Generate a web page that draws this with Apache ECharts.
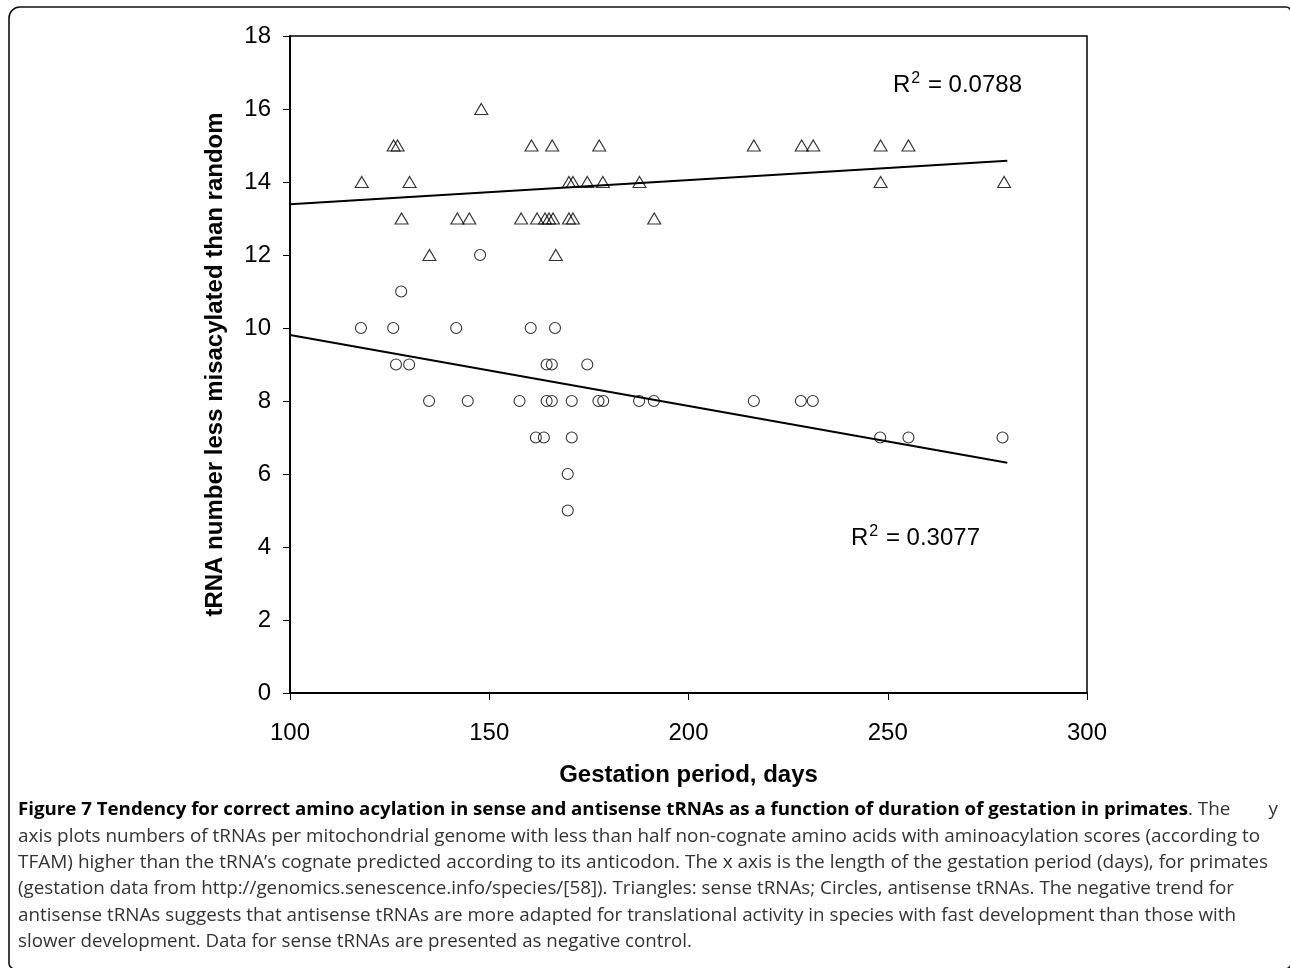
<!DOCTYPE html>
<html>
<head>
<meta charset="utf-8">
<script src="https://cdn.jsdelivr.net/npm/echarts@6/dist/echarts.min.js"></script>
<style>
html,body{margin:0;padding:0;background:#fff;}
#chart{width:1290px;height:968px;}
</style>
</head>
<body>
<div id="chart"></div>
<script>
// Sense tRNAs (triangles)
var senseGestation = [118,126,127,128,130,135,142,145,148,158,160.6,162,164,165,166,165.8,166.7,170,171,170,171,174.6,177.6,178.5,187.7,191.4,216.4,228.4,231.3,248.2,248.2,255.2,279.2];
var senseCount     = [14,15,15,13,14,12,13,13,16,13,15,13,13,13,13,15,12,13,13,14,14,14,15,14,14,13,15,15,15,15,14,15,14];
// Antisense tRNAs (circles)
var antiGestation = [117.8,125.9,127.9,141.7,160.4,166.5,147.7,126.6,129.9,164.4,165.7,174.6,134.9,144.6,157.6,164.4,165.7,170.7,177.4,178.6,187.6,191.3,216.4,228.2,231.2,161.7,163.7,170.7,248.1,255.2,278.8,169.7,169.7];
var antiCount     = [10,10,11,10,10,10,12,9,9,9,9,9,8,8,8,8,8,8,8,8,8,8,8,8,8,7,7,7,7,7,7,6,5];
// Trend lines
var trendX = [100, 280];
var trendSenseY = [13.39, 14.58];
var trendAntiY = [9.81, 6.31];
var r2Sense = '0.0788';
var r2Anti = '0.3077';
var xTicks = {min:100, max:300, interval:50};
var yTicks = {min:0, max:18, interval:2};
var xName = 'Gestation period, days';
var yName = 'tRNA number less misacylated than random';
var captionBold = 'Figure 7 Tendency for correct amino acylation in sense and antisense tRNAs as a function of duration of gestation in primates';
var captionFirstA = '. The';
var captionFirstB = 'y';
var captionLines = [
  'axis plots numbers of tRNAs per mitochondrial genome with less than half non-cognate amino acids with aminoacylation scores (according to',
  'TFAM) higher than the tRNA\u2019s cognate predicted according to its anticodon. The x axis is the length of the gestation period (days), for primates',
  '(gestation data from http://genomics.senescence.info/species/[58]). Triangles: sense tRNAs; Circles, antisense tRNAs. The negative trend for',
  'antisense tRNAs suggests that antisense tRNAs are more adapted for translational activity in species with fast development than those with',
  'slower development. Data for sense tRNAs are presented as negative control.'
];

function zip(a,b){ return a.map(function(v,i){ return [v,b[i]]; }); }

var capFont = 'Open Sans';
var capSize = 18.5;
var cv = document.createElement('canvas').getContext('2d');
function measure(txt, weight){ cv.font = weight + ' ' + capSize + 'px "' + capFont + '"'; return cv.measureText(txt).width; }

var capLeft = 18;
var capTop0 = 810, capStep = 26.4;
var boldEnd = 1188;
var firstEnd = 1278;
var lineEnds = [1260, 1268, 1234, 1236, 692];
var richR = {fontFamily:'Liberation Sans, Arial',fontSize:24,fill:'#000'};
var richS = {fontFamily:'Liberation Sans, Arial',fontSize:16,fill:'#000',verticalAlign:'bottom',padding:[0,1,12,1]};
var graphics = [
  {type:'rect', shape:{x:9,y:7,width:1282,height:962,r:[11,5,6,6]}, style:{fill:'none',stroke:'#111',lineWidth:1.6}, silent:true},
  {type:'text', x:893, y:85, style:{rich:{r:richR,s:richS}, text:'{r|R}{s|2}{r| = ' + r2Sense + '}', verticalAlign:'middle'}},
  {type:'text', x:851, y:538, style:{rich:{r:richR,s:richS}, text:'{r|R}{s|2}{r| = ' + r2Anti + '}', verticalAlign:'middle'}}
];
var scales = [];
for (var i=0;i<captionLines.length;i++){
  var w = measure(captionLines[i], 'normal');
  var sc = (lineEnds[i]-capLeft)/w;
  scales.push(sc);
  graphics.push({type:'text', x:capLeft, y:capTop0 + (i+1)*capStep, scaleX:sc, style:{text:captionLines[i], font:capSize+'px "'+capFont+'"', fill:'#333', verticalAlign:'middle'}});
}
var avgScale = scales.reduce(function(a,b){return a+b;},0)/scales.length;
// caption line 1: bold part + normal part (justified)
var wb = measure(captionBold, 'bold');
graphics.push({type:'text', x:capLeft, y:capTop0, scaleX:(boldEnd-capLeft)/wb, style:{text:captionBold, font:'bold '+capSize+'px "'+capFont+'"', fill:'#000', verticalAlign:'middle'}});
graphics.push({type:'text', x:boldEnd, y:capTop0, scaleX:avgScale, style:{text:captionFirstA, font:capSize+'px "'+capFont+'"', fill:'#333', verticalAlign:'middle'}});
var wy = measure(captionFirstB, 'normal');
graphics.push({type:'text', x:firstEnd - wy*avgScale, y:capTop0, scaleX:avgScale, style:{text:captionFirstB, font:capSize+'px "'+capFont+'"', fill:'#333', verticalAlign:'middle'}});

var chart = echarts.init(document.getElementById('chart'), null, {renderer:'canvas'});
var axisFont = {fontFamily:'Liberation Sans, Arial', fontSize:24, color:'#000'};
chart.setOption({
  animation:false,
  backgroundColor:'#fff',
  grid:{left:290, right:203, top:36, bottom:275, show:true, borderColor:'#000', borderWidth:1.5, backgroundColor:'transparent'},
  xAxis:{
    type:'value', min:xTicks.min, max:xTicks.max, interval:xTicks.interval,
    name:xName, nameLocation:'middle', nameGap:70,
    nameTextStyle:{fontFamily:'Liberation Sans, Arial', fontSize:24, fontWeight:'bold', color:'#000'},
    axisLine:{show:true, onZero:false, lineStyle:{color:'#000', width:2}},
    axisTick:{show:true, inside:false, length:7, lineStyle:{color:'#000', width:1}},
    axisLabel:Object.assign({margin:28}, axisFont),
    splitLine:{show:false}
  },
  yAxis:{
    type:'value', min:yTicks.min, max:yTicks.max, interval:yTicks.interval,
    name:yName, nameLocation:'middle', nameGap:63, nameRotate:90,
    nameTextStyle:{fontFamily:'Liberation Sans, Arial', fontSize:24, fontWeight:'bold', color:'#000'},
    axisLine:{show:true, lineStyle:{color:'#000', width:2}},
    axisTick:{show:true, inside:false, length:7, lineStyle:{color:'#000', width:1}},
    axisLabel:Object.assign({margin:19}, axisFont),
    splitLine:{show:false}
  },
  graphic:graphics,
  series:[
    {type:'scatter', name:'sense', data:zip(senseGestation, senseCount), symbol:'triangle', symbolSize:[13,11],
      itemStyle:{color:'rgba(255,255,255,0)', borderColor:'#000', borderWidth:1.1}, z:3},
    {type:'scatter', name:'antisense', data:zip(antiGestation, antiCount), symbol:'circle', symbolSize:11,
      itemStyle:{color:'rgba(255,255,255,0)', borderColor:'#000', borderWidth:1.1}, z:3},
    {type:'line', data:zip(trendX, trendSenseY), symbol:'none', lineStyle:{color:'#000', width:2}, z:2},
    {type:'line', data:zip(trendX, trendAntiY), symbol:'none', lineStyle:{color:'#000', width:2}, z:2}
  ]
});
</script>
</body>
</html>
